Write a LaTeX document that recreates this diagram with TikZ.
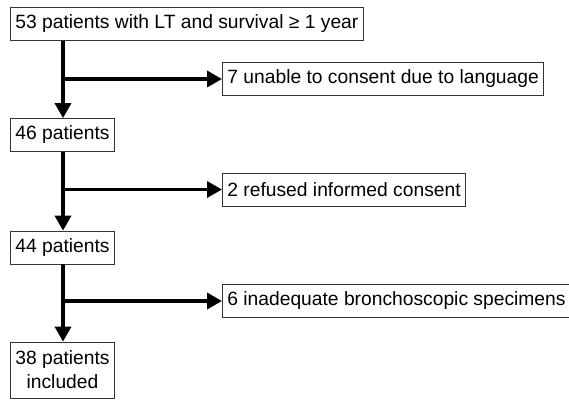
\documentclass[tikz,border=0pt]{standalone}
\usepackage{fontspec}
\setmainfont{Liberation Sans}
\usetikzlibrary{arrows.meta}
\usetikzlibrary{positioning}

\begin{document}
\begin{tikzpicture}[x=1pt, y=-1pt,
  every node/.style={draw=black!80, line width=0.8pt, rectangle, anchor=west,
    inner xsep=5pt, inner ysep=0pt, minimum height=33pt,
    font=\fontsize{19.25}{24}\selectfont, align=center},
  flow/.style={line width=3.5pt, -{Triangle[length=15pt, width=16pt]}}]
\useasboundingbox (0,0) rectangle (569,400);
\node (N53) at (10,24) {53 patients with LT and survival ≥ 1 year};
\node (X7) at (222,79) {7 unable to consent due to language};
\node (N46) at (10,135) {46 patients};
\node (X2) at (222,189.5) {2 refused informed consent};
\node (N44) at (10,247.5) {44 patients};
\node (X6) at (222,301) {6 inadequate bronchoscopic specimens};
\node[minimum height=56pt] (N38) at (10,370) {38 patients\\included};
\coordinate (B1) at (63,79);
\coordinate (B2) at (63,189.5);
\coordinate (B3) at (63,301);
\draw[flow] (B1 |- N53.south) -- (B1 |- N46.north);
\draw[flow] (B1) -- (X7.west);
\draw[flow] (B2 |- N46.south) -- (B2 |- N44.north);
\draw[flow] (B2) -- (X2.west);
\draw[flow] (B3 |- N44.south) -- (B3 |- N38.north);
\draw[flow] (B3) -- (X6.west);
\end{tikzpicture}
\end{document}
